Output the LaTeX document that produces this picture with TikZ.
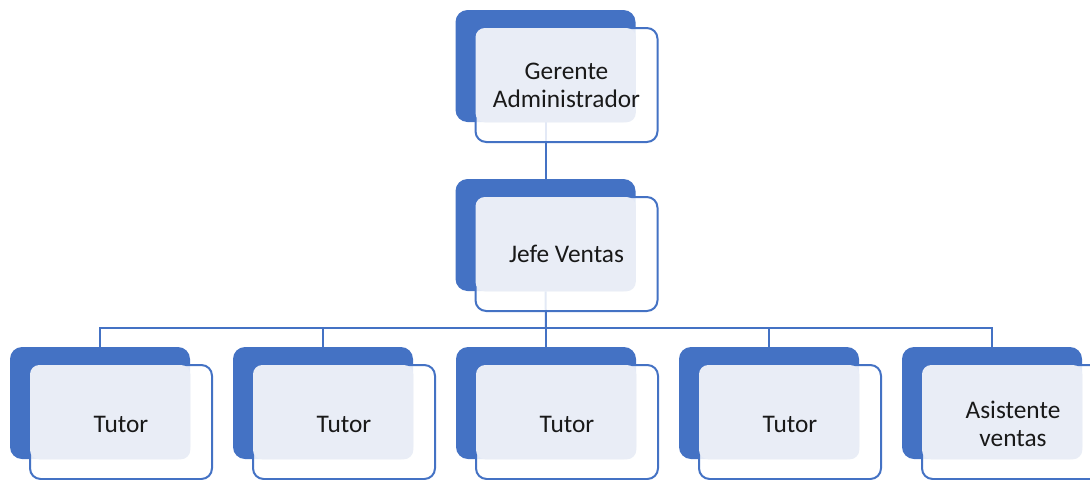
\documentclass[tikz,border=0pt]{standalone}
\usepackage{fontspec}
\setmainfont{Carlito}
\definecolor{OrgBlue} {HTML}{4472C4}
\definecolor{OrgLight}{HTML}{E9EDF6}
\usetikzlibrary{positioning,backgrounds}

\begin{document}
\begin{tikzpicture}[x=0.75pt,y=-0.75pt,
  backbox/.style={fill=OrgBlue,rounded corners=9pt,inner sep=0pt,
    minimum width=135pt,minimum height=84pt},
  frontbox/.style={draw=OrgBlue,line width=1.5pt,fill=white,fill opacity=0.85,
    rounded corners=8pt,inner sep=0pt,minimum width=136.5pt,minimum height=85.5pt},
  lightfill/.style={fill=OrgLight,rounded corners=7pt},
  label/.style={align=center,text=black!90,font=\fontsize{19}{21}\selectfont},
  link/.style={draw=OrgBlue,line width=1.5pt}]
  \clip (0,0) rectangle (1090,479);
  \useasboundingbox (0,0) rectangle (1090,479);
  % Gerente
  \node[backbox] (b-ger) at (545.5,66) {};
  \node[frontbox] (f-ger) at (566.5,85) {};
  \fill[lightfill] ([shift={(0.75pt,-0.75pt)}]f-ger.north west) rectangle (b-ger.south east);
  \node[label] (t-ger) at (f-ger.center) {Gerente\\Administrador};
  % Jefe de ventas
  \node[backbox] (b-jef) at (545.5,235) {};
  \node[frontbox] (f-jef) at (566.5,254) {};
  \fill[lightfill] ([shift={(0.75pt,-0.75pt)}]f-jef.north west) rectangle (b-jef.south east);
  \node[label] (t-jef) at (f-jef.center) {Jefe Ventas};
  % Tutores y asistente
  \foreach \i/\x/\txt in {1/100/Tutor,2/323/Tutor,3/546/Tutor,4/769/Tutor,
      5/992/{Asistente\\ventas}}{
    \node[backbox] (b-\i) at (\x,403) {};
    \node[frontbox] (f-\i) at (\x+21,422) {};
    \fill[lightfill] ([shift={(0.75pt,-0.75pt)}]f-\i.north west) rectangle (b-\i.south east);
    \node[label] (t-\i) at ([yshift=-1.5pt]f-\i.center) {\txt};
  }
  % Lineas
  \coordinate (bus) at (546,328);
  \begin{scope}[on background layer]
    \draw[link] (b-ger.south) -- (b-jef.north);
    \draw[link] (b-jef.south) -- (bus);
    \foreach \i in {1,...,5}
      \draw[link] (bus) -| (b-\i.north);
  \end{scope}
\end{tikzpicture}
\end{document}
